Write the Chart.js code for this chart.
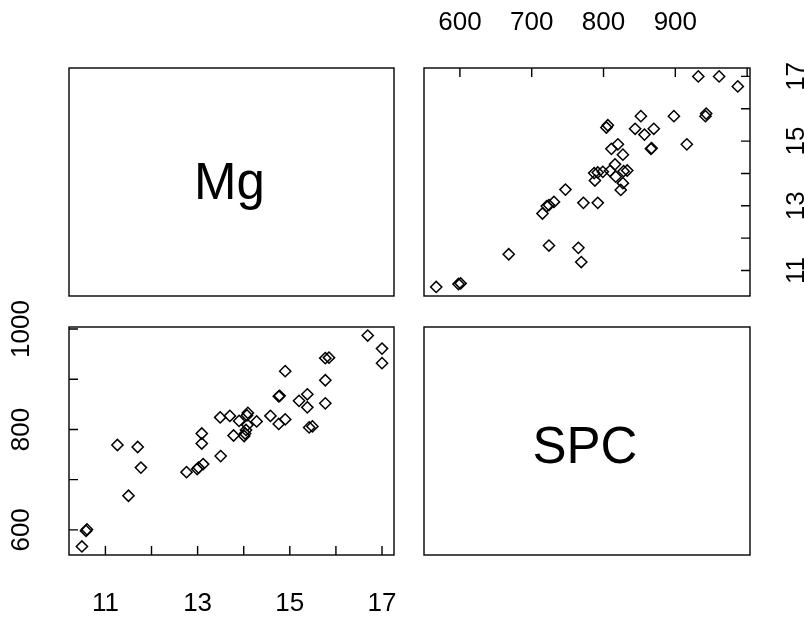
<!DOCTYPE html>
<html>
<head>
<meta charset="utf-8">
<script src="https://cdn.jsdelivr.net/npm/chart.js@4.4.1/dist/chart.umd.min.js"></script>
<style>
  html, body { margin: 0; padding: 0; background: #fff; }
  #wrap { position: relative; width: 805px; height: 617px; }
  canvas { position: absolute; left: 0; top: 0; }
</style>
</head>
<body>
<div id="wrap">
  <canvas id="c1" width="805" height="617"></canvas>
  <canvas id="c2" width="805" height="617"></canvas>
</div>
<script>
// ---- data ----
const VARS = ['Mg', 'SPC'];
const mg  = [10.49, 10.58, 10.60, 11.50, 11.77, 11.70, 11.26, 12.76, 12.99, 13.02, 13.12, 13.09, 13.09, 13.50, 13.49,
             13.70, 13.78, 13.90, 14.01, 14.03, 14.05, 14.07, 14.09, 14.08, 14.28, 14.58, 14.76, 14.90, 14.76, 14.78,
             14.90, 15.20, 15.38, 15.38, 15.42, 15.49, 15.77, 15.77, 15.77, 15.85, 16.69, 17.00, 17.00];
const spc = [567, 598, 601, 668, 724, 765, 769, 715, 721, 724, 731, 772, 792, 747, 824,
             827, 788, 817, 787, 792, 799, 828, 833, 809, 816, 827, 811, 820, 866, 867,
             916, 857, 870, 844, 804, 806, 852, 898, 942, 943, 987, 961, 932];

const mgTicks = [11, 12, 13, 14, 15, 16, 17];
const mgLabels = [11, 13, 15, 17];
const spcTicks = [600, 700, 800, 900, 1000];
const spcLabelsLeft = [600, 800, 1000];
const spcLabelsTop = [600, 700, 800, 900];

const mgRange = [10.21, 17.26];
const spcRange = [550, 1004];

// ---- layout ----
const W = 805, H = 617;
const PANEL = { left1: 69, right1: 394, left2: 424, right2: 750, top1: 68, bottom1: 296, top2: 327, bottom2: 555 };
const TICK_LEN = 9, LABEL_GAP = 47;
const TICK_FONT = '26px "Liberation Sans", Arial, sans-serif';
const VAR_FONT = '51px "Liberation Sans", Arial, sans-serif';
const VAR_DY = [3, 8];

function pointsOf(xs, ys) { return xs.map((x, i) => ({ x: x, y: ys[i] })); }

function axisDecor(chart, axes) {
  const ctx = chart.ctx, a = chart.chartArea;
  ctx.save();
  ctx.strokeStyle = '#000';
  ctx.lineWidth = 1.4;
  ctx.strokeRect(a.left, a.top, a.right - a.left, a.bottom - a.top);
  ctx.fillStyle = '#000';
  ctx.font = TICK_FONT;
  ctx.textAlign = 'center';
  ctx.textBaseline = 'middle';
  axes.forEach(ax => {
    const s = chart.scales[ax.id];
    ctx.beginPath();
    ax.ticks.forEach(v => {
      const p = s.getPixelForValue(v);
      if (ax.side === 'bottom') { ctx.moveTo(p, a.bottom); ctx.lineTo(p, a.bottom - TICK_LEN); }
      if (ax.side === 'top') { ctx.moveTo(p, a.top); ctx.lineTo(p, a.top + TICK_LEN); }
      if (ax.side === 'left') { ctx.moveTo(a.left, p); ctx.lineTo(a.left + TICK_LEN, p); }
      if (ax.side === 'right') { ctx.moveTo(a.right, p); ctx.lineTo(a.right - TICK_LEN, p); }
    });
    ctx.stroke();
    ax.labels.forEach(v => {
      const p = s.getPixelForValue(v);
      const t = String(v);
      if (ax.side === 'bottom') ctx.fillText(t, p, a.bottom + LABEL_GAP + 2);
      if (ax.side === 'top') ctx.fillText(t, p, a.top - LABEL_GAP + 2);
      if (ax.side === 'left' || ax.side === 'right') {
        ctx.save();
        ctx.translate(ax.side === 'left' ? a.left - LABEL_GAP : a.right + LABEL_GAP, p);
        ctx.rotate(-Math.PI / 2);
        ctx.fillText(t, 0, 0);
        ctx.restore();
      }
    });
  });
  ctx.restore();
}

function diagDecor(chart) {
  const ctx = chart.ctx;
  const boxes = [
    { x0: PANEL.left1, x1: PANEL.right1, y0: PANEL.top1, y1: PANEL.bottom1, name: VARS[0], dy: VAR_DY[0] },
    { x0: PANEL.left2, x1: PANEL.right2, y0: PANEL.top2, y1: PANEL.bottom2, name: VARS[1], dy: VAR_DY[1] }
  ];
  ctx.save();
  ctx.strokeStyle = '#000';
  ctx.lineWidth = 1.4;
  ctx.fillStyle = '#000';
  ctx.font = VAR_FONT;
  ctx.textAlign = 'center';
  ctx.textBaseline = 'middle';
  boxes.forEach(b => {
    ctx.strokeRect(b.x0, b.y0, b.x1 - b.x0, b.y1 - b.y0);
    ctx.fillText(b.name, (b.x0 + b.x1) / 2 - 2, (b.y0 + b.y1) / 2 + b.dy);
  });
  ctx.restore();
}

function baseOptions(pad, xRange, yRange) {
  return {
    responsive: false,
    animation: false,
    devicePixelRatio: 1,
    layout: { padding: pad },
    plugins: { legend: { display: false }, tooltip: { enabled: false } },
    scales: {
      x: { type: 'linear', display: false, min: xRange[0], max: xRange[1] },
      y: { type: 'linear', display: false, min: yRange[0], max: yRange[1] }
    }
  };
}

const pointStyle = {
  pointStyle: 'rectRot',
  pointRadius: 5.6,
  pointBorderWidth: 1.5,
  pointBorderColor: '#000',
  pointBackgroundColor: 'rgba(0,0,0,0)',
  showLine: false
};

// lower-left panel: x = Mg, y = SPC
new Chart(document.getElementById('c1'), {
  type: 'scatter',
  data: { datasets: [Object.assign({ data: pointsOf(mg, spc) }, pointStyle)] },
  options: baseOptions({ left: PANEL.left1, top: PANEL.top2, right: W - PANEL.right1, bottom: H - PANEL.bottom2 }, mgRange, spcRange),
  plugins: [{
    id: 'decor1',
    afterDraw(chart) {
      axisDecor(chart, [
        { id: 'x', side: 'bottom', ticks: mgTicks, labels: mgLabels },
        { id: 'y', side: 'left', ticks: spcTicks, labels: spcLabelsLeft }
      ]);
      diagDecor(chart);
    }
  }]
});

// upper-right panel: x = SPC, y = Mg
new Chart(document.getElementById('c2'), {
  type: 'scatter',
  data: { datasets: [Object.assign({ data: pointsOf(spc, mg) }, pointStyle)] },
  options: baseOptions({ left: PANEL.left2, top: PANEL.top1, right: W - PANEL.right2, bottom: H - PANEL.bottom1 }, spcRange, mgRange),
  plugins: [{
    id: 'decor2',
    afterDraw(chart) {
      axisDecor(chart, [
        { id: 'x', side: 'top', ticks: spcTicks, labels: spcLabelsTop },
        { id: 'y', side: 'right', ticks: mgTicks, labels: mgLabels }
      ]);
    }
  }]
});
</script>
</body>
</html>
